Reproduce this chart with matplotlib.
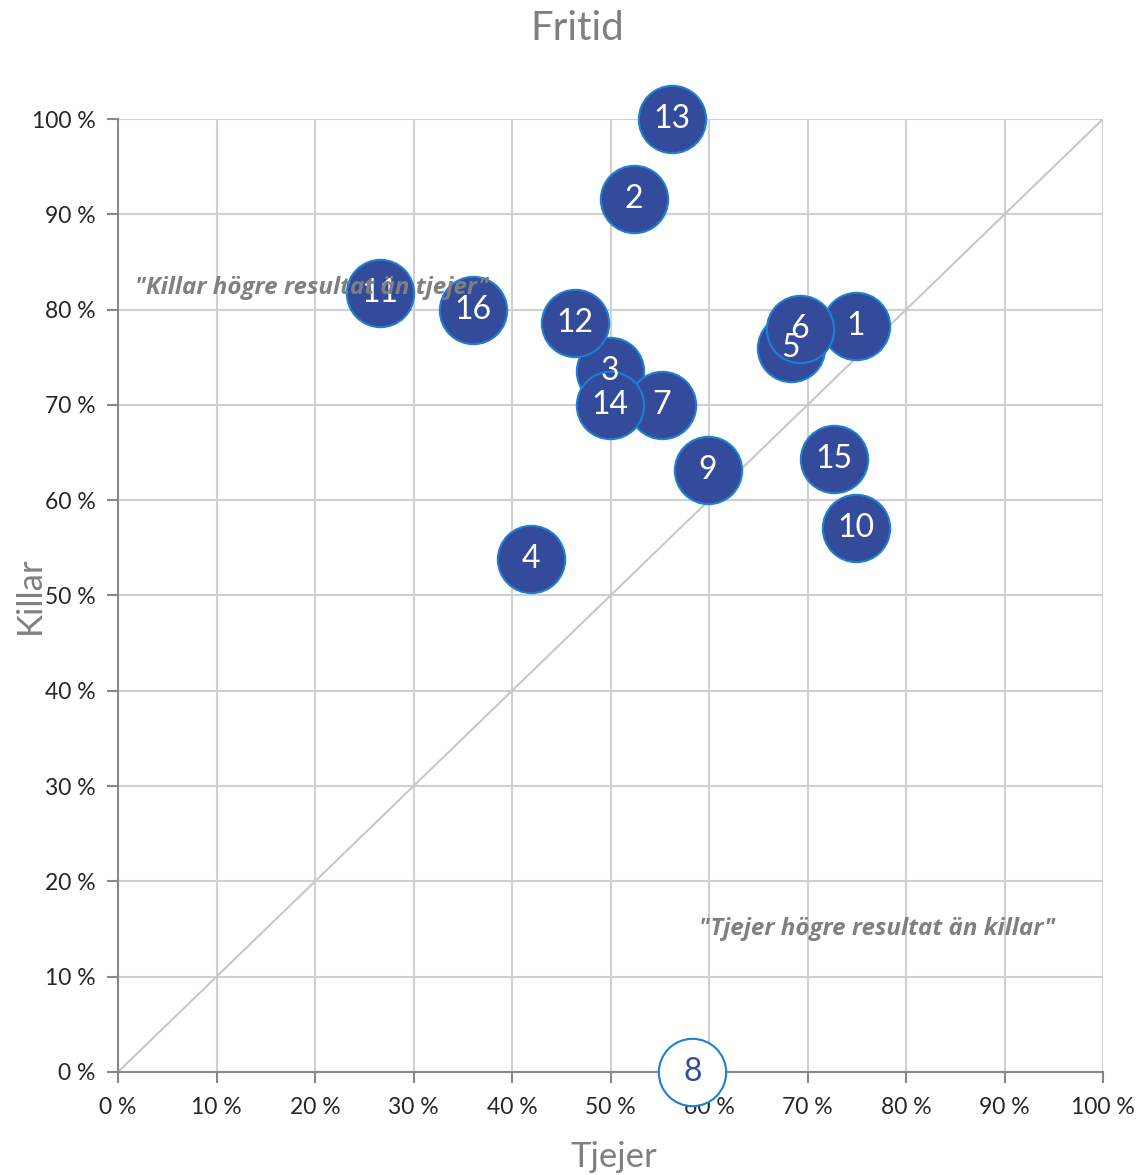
import matplotlib
matplotlib.use("Agg")
import matplotlib.pyplot as plt
from matplotlib.ticker import FuncFormatter

# Data
labels = ["1", "2", "3", "4", "5", "6", "7", "8", "9", "10", "11", "12", "13", "14", "15", "16"]
tjejer = [74.9, 52.4, 49.9, 41.9, 68.3, 69.2, 55.2, 58.3, 59.9, 74.9, 26.6, 46.4, 56.2, 49.9, 72.7, 36.0]
killar = [78.3, 91.6, 73.6, 53.8, 76.0, 78.0, 70.0, 0.0, 63.2, 57.1, 81.7, 78.6, 100.0, 70.0, 64.3, 80.0]
hollow = ["8"]
ticks = list(range(0, 101, 10))

plt.rcParams['font.family'] = ['Lato', 'DejaVu Sans']

fig = plt.figure(figsize=(11.39, 11.75), dpi=100)
ax = fig.add_axes([0.1036, 0.0877, 0.8648, 0.8110])

ax.set_xlim(0, 100)
ax.set_ylim(0, 100)
ax.set_xticks(ticks)
ax.set_yticks(ticks)
fmt = FuncFormatter(lambda v, p: f"{int(v)} %")
ax.xaxis.set_major_formatter(fmt)
ax.yaxis.set_major_formatter(fmt)
ax.tick_params(axis='both', labelsize=16.5, colors='#898989', labelcolor='#262626',
               length=8, width=1.5, direction='out')
ax.tick_params(axis='x', pad=10)
ax.tick_params(axis='y', pad=8)
ax.grid(True, color='#d0d0d0', linewidth=1.5, zorder=0)
ax.set_axisbelow(True)
for s in ['top', 'right']:
    ax.spines[s].set_visible(False)
for s in ['left', 'bottom']:
    ax.spines[s].set_color('#898989')
    ax.spines[s].set_linewidth(1.5)

ax.plot([0, 100], [0, 100], color='#c8c8c8', linewidth=1.5, zorder=1)

for i, (lab, x, y) in enumerate(zip(labels, tjejer, killar)):
    if lab in hollow:
        ax.scatter([x], [y], s=2350, facecolor='white', edgecolor='#1f7fd0',
                   linewidth=1.5, zorder=3 + i * 0.01, clip_on=False)
        ax.text(x, y, lab, ha='center', va='center', fontsize=23,
                color='#344a9a', zorder=10, clip_on=False)
    else:
        ax.scatter([x], [y], s=2350, facecolor='#344a9a', edgecolor='#1f7fd0',
                   linewidth=1.5, zorder=3 + i * 0.01, clip_on=False)
        ax.text(x, y, lab, ha='center', va='center', fontsize=23,
                color='white', zorder=10, clip_on=False)

ax.text(1.7, 82.3, '"Killar högre resultat än tjejer"', fontsize=17.4, fontstyle='italic',
        fontweight='bold', color='#808080', ha='left', va='center', zorder=11,
        family=['Open Sans', 'DejaVu Sans'])
ax.text(59.0, 15.0, '"Tjejer högre resultat än killar"', fontsize=17.4, fontstyle='italic',
        fontweight='bold', color='#808080', ha='left', va='center', zorder=11,
        family=['Open Sans', 'DejaVu Sans'])

fig.text(614 / 1139, 1 - 1157 / 1175, 'Tjejer', fontsize=25, color='#808080',
         ha='center', va='center')
fig.text(30 / 1139, 1 - 595 / 1175, 'Killar', fontsize=25, color='#808080',
         ha='center', va='center', rotation=90)
fig.text(577 / 1139, 1 - 28 / 1175, 'Fritid', fontsize=29, color='#808080',
         ha='center', va='center')

fig.savefig('out.png', dpi=100)
